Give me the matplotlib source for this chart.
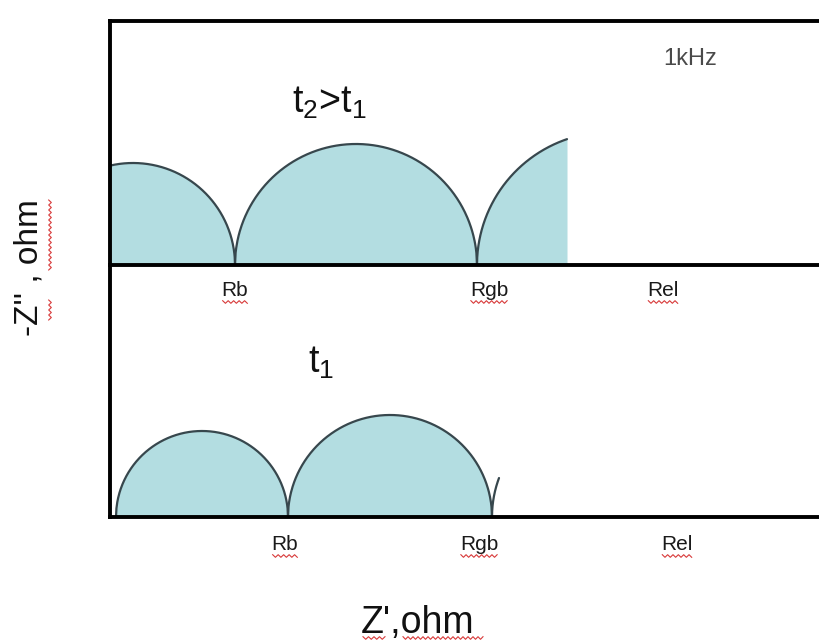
import numpy as np
import matplotlib
matplotlib.use("Agg")
import matplotlib.pyplot as plt
from matplotlib.lines import Line2D

plt.rcParams['font.family'] = ['Liberation Sans', 'DejaVu Sans']
plt.rcParams['mathtext.fontset'] = 'custom'
plt.rcParams['mathtext.rm'] = 'Liberation Sans'

W, H = 820, 644

# Impedance arcs (Z' and -Z'' in arbitrary ohm units), one list per panel
top_centers = [23, 246, 500]
top_radii = [102, 121, 133]
top_cut = 457            # last measured Z' of the t2 spectrum

bot_centers = [92, 280, 494]
bot_radii = [86, 102, 112]
bot_cut = 389            # last measured Z' of the t1 spectrum

# Intercept labels on the Z' axis
labels = ["Rb", "Rgb", "Rel"]
top_label_x = [125, 379, 553]
bot_label_x = [175, 369, 567]

xmax = 710
top_ymax = 244
bot_ymax = 252

fill_color = "#b3dde1"
arc_color = "#37474d"

fig = plt.figure(figsize=(W / 100, H / 100), dpi=100)
fig.patch.set_facecolor("white")


def px_axes(x0, y0, x1, y1):
    """Axes placed by pixel box (origin at top-left of the figure)."""
    return fig.add_axes([x0 / W, 1 - y1 / H, (x1 - x0) / W, (y1 - y0) / H])


ax_top = px_axes(110, 21, 820, 265)
ax_bot = px_axes(110, 265, 820, 517)


def draw_arcs(ax, centers, radii, cut, fill_last):
    n = len(centers)
    for i, (c, r) in enumerate(zip(centers, radii)):
        lo = max(c - r, 0)
        hi = min(c + r, cut)
        x = np.linspace(lo, hi, 400)
        y = np.sqrt(np.clip(r ** 2 - (x - c) ** 2, 0, None))
        if i < n - 1 or fill_last:
            ax.fill_between(x, 0, y, color=fill_color, lw=0, zorder=1)
        ax.plot(x, y, color=arc_color, lw=1.6, zorder=2,
                solid_capstyle="round")


draw_arcs(ax_top, top_centers, top_radii, top_cut, True)
draw_arcs(ax_bot, bot_centers, bot_radii, bot_cut, False)

for ax, ymax in ((ax_top, top_ymax), (ax_bot, bot_ymax)):
    ax.set_xlim(0, xmax)
    ax.set_ylim(0, ymax)
    ax.set_xticks([])
    ax.set_yticks([])
    ax.patch.set_alpha(0)
    for s in ax.spines.values():
        s.set_linewidth(2.8)
        s.set_color("black")
        s.set_zorder(5)
    ax.spines["right"].set_visible(False)
ax_bot.spines["top"].set_visible(False)

# Panel annotations
ax_top.text(182, 152, r"$\mathregular{t_2}$" + ">" + r"$\mathregular{t_1}$",
            fontsize=27, ha="left", va="baseline", color="#111111")
ax_bot.text(198, 144, r"$\mathregular{t_1}$", fontsize=27,
            ha="left", va="baseline", color="#111111")
ax_top.text(553, 200, "1kHz", fontsize=17, ha="left", va="baseline",
            color="#4a4a4a")

label_texts = []
for lx, lab in zip(top_label_x, labels):
    label_texts.append(ax_top.text(lx, -31, lab, fontsize=15, ha="center",
                                   va="baseline", clip_on=False,
                                   color="#1a1a1a"))
for lx, lab in zip(bot_label_x, labels):
    label_texts.append(ax_bot.text(lx, -33, lab, fontsize=15, ha="center",
                                   va="baseline", clip_on=False,
                                   color="#1a1a1a"))

fig.text(361 / W, 1 - 633 / H, "Z',ohm", fontsize=27, ha="left",
         va="baseline", color="#111111")
fig.text(29 / W, 1 - 268 / H, "-Z'' , ohm", fontsize=24, rotation=90,
         ha="center", va="center", color="#111111")


def wavy(x0, x1, y, vertical=False):
    """Red squiggle (spell-check style) in figure pixel coordinates."""
    n = max(int(abs(x1 - x0) / 2.5), 2)
    t = np.linspace(x0, x1, n + 1)
    off = np.where(np.arange(n + 1) % 2 == 0, -1.3, 1.3)
    if vertical:
        xs, ys = y + off, t
    else:
        xs, ys = t, y + off
    fig.add_artist(Line2D(xs / W, 1 - ys / H, color="#d83a3a", lw=0.8,
                          transform=fig.transFigure))


fig.canvas.draw()
renderer = fig.canvas.get_renderer()
for t in label_texts:
    bb = t.get_window_extent(renderer)
    ybase = H - bb.y0
    wavy(bb.x0 + 1, bb.x1 - 1, ybase + 2)

wavy(363, 385, 638)
wavy(403, 483, 638)
wavy(200, 270, 50, vertical=True)
wavy(300, 320, 50, vertical=True)

fig.savefig("out.png", dpi=100)
